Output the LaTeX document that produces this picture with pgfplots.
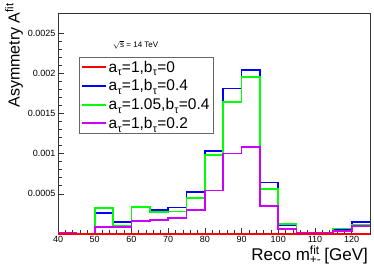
\documentclass[border=0pt]{standalone}
\usepackage{pgfplots}
\pgfplotsset{compat=1.18}
\usepackage{fontspec}
\setmainfont{Liberation Sans}
\definecolor{hred}{RGB}{255,0,0}
\definecolor{hblue}{RGB}{0,0,255}
\definecolor{hgreen}{RGB}{0,255,0}
\definecolor{hmag}{RGB}{204,0,255}
\newcommand{\sub}[1]{\kern0.3pt\raisebox{-0.45ex}{\fontsize{10.5}{11}\selectfont #1}\kern0.3pt}
\begin{document}
\begin{tikzpicture}[x=1pt,y=1pt]
\begin{axis}[
  scale only axis, width=312pt, height=221pt,
  xmin=40, xmax=125, ymin=0, ymax=0.00275,
  clip=false,
  /pgf/number format/assume math mode=true,
  xtick={40,50,...,120}, minor x tick num=4,
  ytick={0.0005,0.001,0.0015,0.002,0.0025}, minor y tick num=4,
  yticklabels={0.0005,0.001,0.0015,0.002,0.0025},
  scaled y ticks=false,
  xtick pos=bottom, ytick pos=left, tick align=inside,
  major tick length=6pt, minor tick length=3.5pt,
  tick style={black!80, line width=0.6pt},
  axis line style={black!80, line width=0.7pt},
  ticklabel style={font=\fontsize{9}{10}\selectfont},
  xticklabel style={yshift=1.5pt},
  yticklabel style={xshift=1pt},
  ylabel={Asymmetry A\textsuperscript{fit}},
  xlabel={Reco m\rlap{\textsubscript{+-}}\textsuperscript{fit} [GeV]},
  label style={inner sep=0pt},
  ylabel style={font=\fontsize{16}{18}\selectfont, at={(axis description cs:-0.141,1.045)}, anchor=east},
  xlabel style={font=\fontsize{17}{19}\selectfont, at={(axis description cs:0.994,-0.12)}, anchor=base east},
  legend image code/.code={\draw[#1] plot coordinates {(0pt,0pt) (12pt,0pt) (24pt,0pt)};},
  legend image post style={line width=2pt},
  legend style={at={(axis description cs:0.067,0.80)}, anchor=north west,
    draw=black!60, fill=white,
    font=\fontsize{15.5}{17.5}\selectfont, row sep=3pt,
    inner xsep=2pt, inner ysep=2pt,
    nodes={inner sep=1.5pt}},
  legend cell align=left,
  every axis plot/.append style={const plot, line width=1.7pt},
]
\addlegendimage{hred}
\addlegendentry{a\sub{τ}=1,b\sub{τ}=0}
\addplot[hblue] coordinates {(40,0)(45,0)(50,0.00026)(55,0.000146)(60,0.00034)(65,0.0003)(70,0.00033)(75,0.00052)(80,0.00103)(85,0.00181)(90,0.00204)(95,0.00064)(100,0.00011)(105,0.00001)(110,0.00001)(115,0.00006)(120,0.00015)(125,0.00015)};
\addlegendentry{a\sub{τ}=1,b\sub{τ}=0.4}
\addplot[hgreen] coordinates {(40,0)(45,0)(50,0.00032)(55,0.0001)(60,0.00034)(65,0.00027)(70,0.00028)(75,0.00045)(80,0.00098)(85,0.00164)(90,0.00195)(95,0.00056)(100,0.00012)(105,0.00001)(110,0.00001)(115,0.00007)(120,0.00011)(125,0.00011)};
\addlegendentry{a\sub{τ}=1.05,b\sub{τ}=0.4}
\addplot[hmag] coordinates {(40,0.00001)(45,0)(50,0.00009)(55,0.000085)(60,0.00016)(65,0.00017)(70,0.0002)(75,0.0003)(80,0.00054)(85,0.001)(90,0.00108)(95,0.00035)(100,0.00006)(105,0.00001)(110,0.00001)(115,0.00004)(120,0.0001)(125,0.0001)};
\addlegendentry{a\sub{τ}=1,b\sub{τ}=0.2}
\addplot[hred, forget plot] coordinates {(40,0)(45,0)(50,0)(55,0)(60,0)(65,0)(70,0)(75,0)(80,0)(85,0)(90,0)(95,0)(100,0)(105,0)(110,0)(115,0)(120,0)(125,0)};
\node[anchor=west, font=\fontsize{8}{9}\selectfont, inner sep=0pt] at (axis description cs:0.176,0.855) {$\sqrt{\mbox{s}}$ = 14 TeV};
\coordinate (bl) at (axis description cs:-0.186,-0.1584);
\coordinate (tr) at (axis description cs:1.0128,1.0588);
\end{axis}
\path (bl) rectangle (tr);
\end{tikzpicture}
\end{document}
